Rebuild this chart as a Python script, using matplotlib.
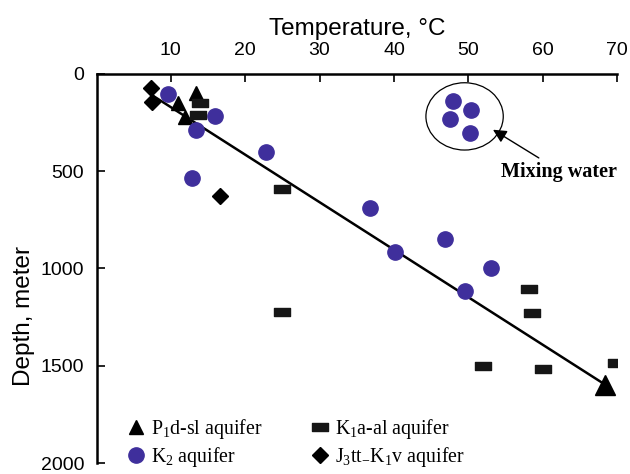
import matplotlib
matplotlib.use("Agg")
import matplotlib.pyplot as plt
from matplotlib.patches import Ellipse
from matplotlib.path import Path

plt.rcParams['font.family'] = ['Liberation Sans', 'DejaVu Sans']
plt.rcParams['mathtext.fontset'] = 'custom'
plt.rcParams['mathtext.rm'] = 'Liberation Serif'
plt.rcParams['mathtext.it'] = 'Liberation Serif:italic'

# P1d-sl aquifer (triangles)
p1_temp = [13.4, 11.0, 11.9]
p1_depth = [99, 151, 219]

# K2 aquifer (circles)
k2_temp = [9.6, 16.0, 13.4, 22.8, 12.9, 36.8, 40.2, 46.9, 53.1, 49.6,
           47.9, 50.4, 47.5, 50.2]
k2_depth = [103, 216, 288, 399, 537, 687, 913, 850, 999, 1116,
            137, 185, 233, 302]

# K1a-al aquifer (bars)
k1_temp = [13.9, 13.7, 25.0, 24.9, 58.1, 58.6, 52.0, 60.0, 69.8]
k1_depth = [150, 211, 593, 1225, 1107, 1227, 1500, 1518, 1488]

# J3tt-K1v aquifer (diamonds)
j3_temp = [7.3, 7.4, 16.6]
j3_depth = [74, 142, 627]

# trend line
trend_temp = [7.8, 68.4]
trend_depth = [117, 1597]

bar_marker = Path([(-1, -0.45), (1, -0.45), (1, 0.45), (-1, 0.45), (-1, -0.45)],
                  [Path.MOVETO, Path.LINETO, Path.LINETO, Path.LINETO, Path.CLOSEPOLY])

fig = plt.figure(figsize=(6.3, 4.74), dpi=100)
ax = fig.add_axes([0.1532, 0.0232, 0.8262, 0.8207])

ax.plot(trend_temp, trend_depth, color='black', lw=1.8, zorder=2)
ax.plot(trend_temp[-1:], trend_depth[-1:], marker='^', ms=15, color='black',
        ls='none', zorder=2)

h1, = ax.plot(p1_temp, p1_depth, ls='none', marker='^', ms=10, color='black',
              label='P$_1$d-sl aquifer', zorder=3)
h2, = ax.plot(k2_temp, k2_depth, ls='none', marker='o', ms=11, color='#3f2f9c',
              mec='#3f2f9c', label='K$_2$ aquifer', zorder=3)
h3, = ax.plot(k1_temp, k1_depth, ls='none', marker=bar_marker, ms=12, color='#161616',
              label='K$_1$a-al aquifer', zorder=3)
h4, = ax.plot(j3_temp, j3_depth, ls='none', marker='D', ms=8, color='black',
              label='J$_3$tt$_{\\mathrm{-}}$K$_1$v aquifer', zorder=3)

ax.add_patch(Ellipse((49.5, 218), 10.4, 346, fill=False, color='black', lw=0.9))
ax.annotate('', xy=(53.0, 279), xytext=(59.8, 439),
            arrowprops=dict(arrowstyle='-|>,head_length=0.8,head_width=0.4',
                            color='black', lw=1.0))
ax.text(62.2, 502, 'Mixing water', family='Liberation Serif', fontweight='bold',
        fontsize=14.5, ha='center', va='center')

ax.set_xlim(0, 70)
ax.set_ylim(2000, 0)
ax.xaxis.tick_top()
ax.xaxis.set_label_position('top')
ax.set_xticks([10, 20, 30, 40, 50, 60, 70])
ax.set_yticks([0, 500, 1000, 1500, 2000])
ax.tick_params(direction='in', length=6, width=1.2, labelsize=14, color='black')
ax.tick_params(axis='y', pad=9)
ax.tick_params(axis='x', pad=11)
ax.set_xlabel('Temperature, °C', fontsize=17.5, labelpad=5)
ax.set_ylabel('Depth, meter', fontsize=17.5)
ax.yaxis.set_label_coords(-0.118, 0.378)

for side in ['right', 'bottom']:
    ax.spines[side].set_visible(False)
for side in ['top', 'left']:
    ax.spines[side].set_linewidth(1.8)

ax.legend(handles=[h1, h2, h3, h4], ncol=2, frameon=False,
          loc='lower left', bbox_to_anchor=(0.046, -0.035),
          prop={'family': 'Liberation Serif', 'size': 14.3},
          handlelength=0.8, handletextpad=0.35, columnspacing=2.5,
          labelspacing=0.2, borderaxespad=0)

fig.savefig('out.png', dpi=100)
